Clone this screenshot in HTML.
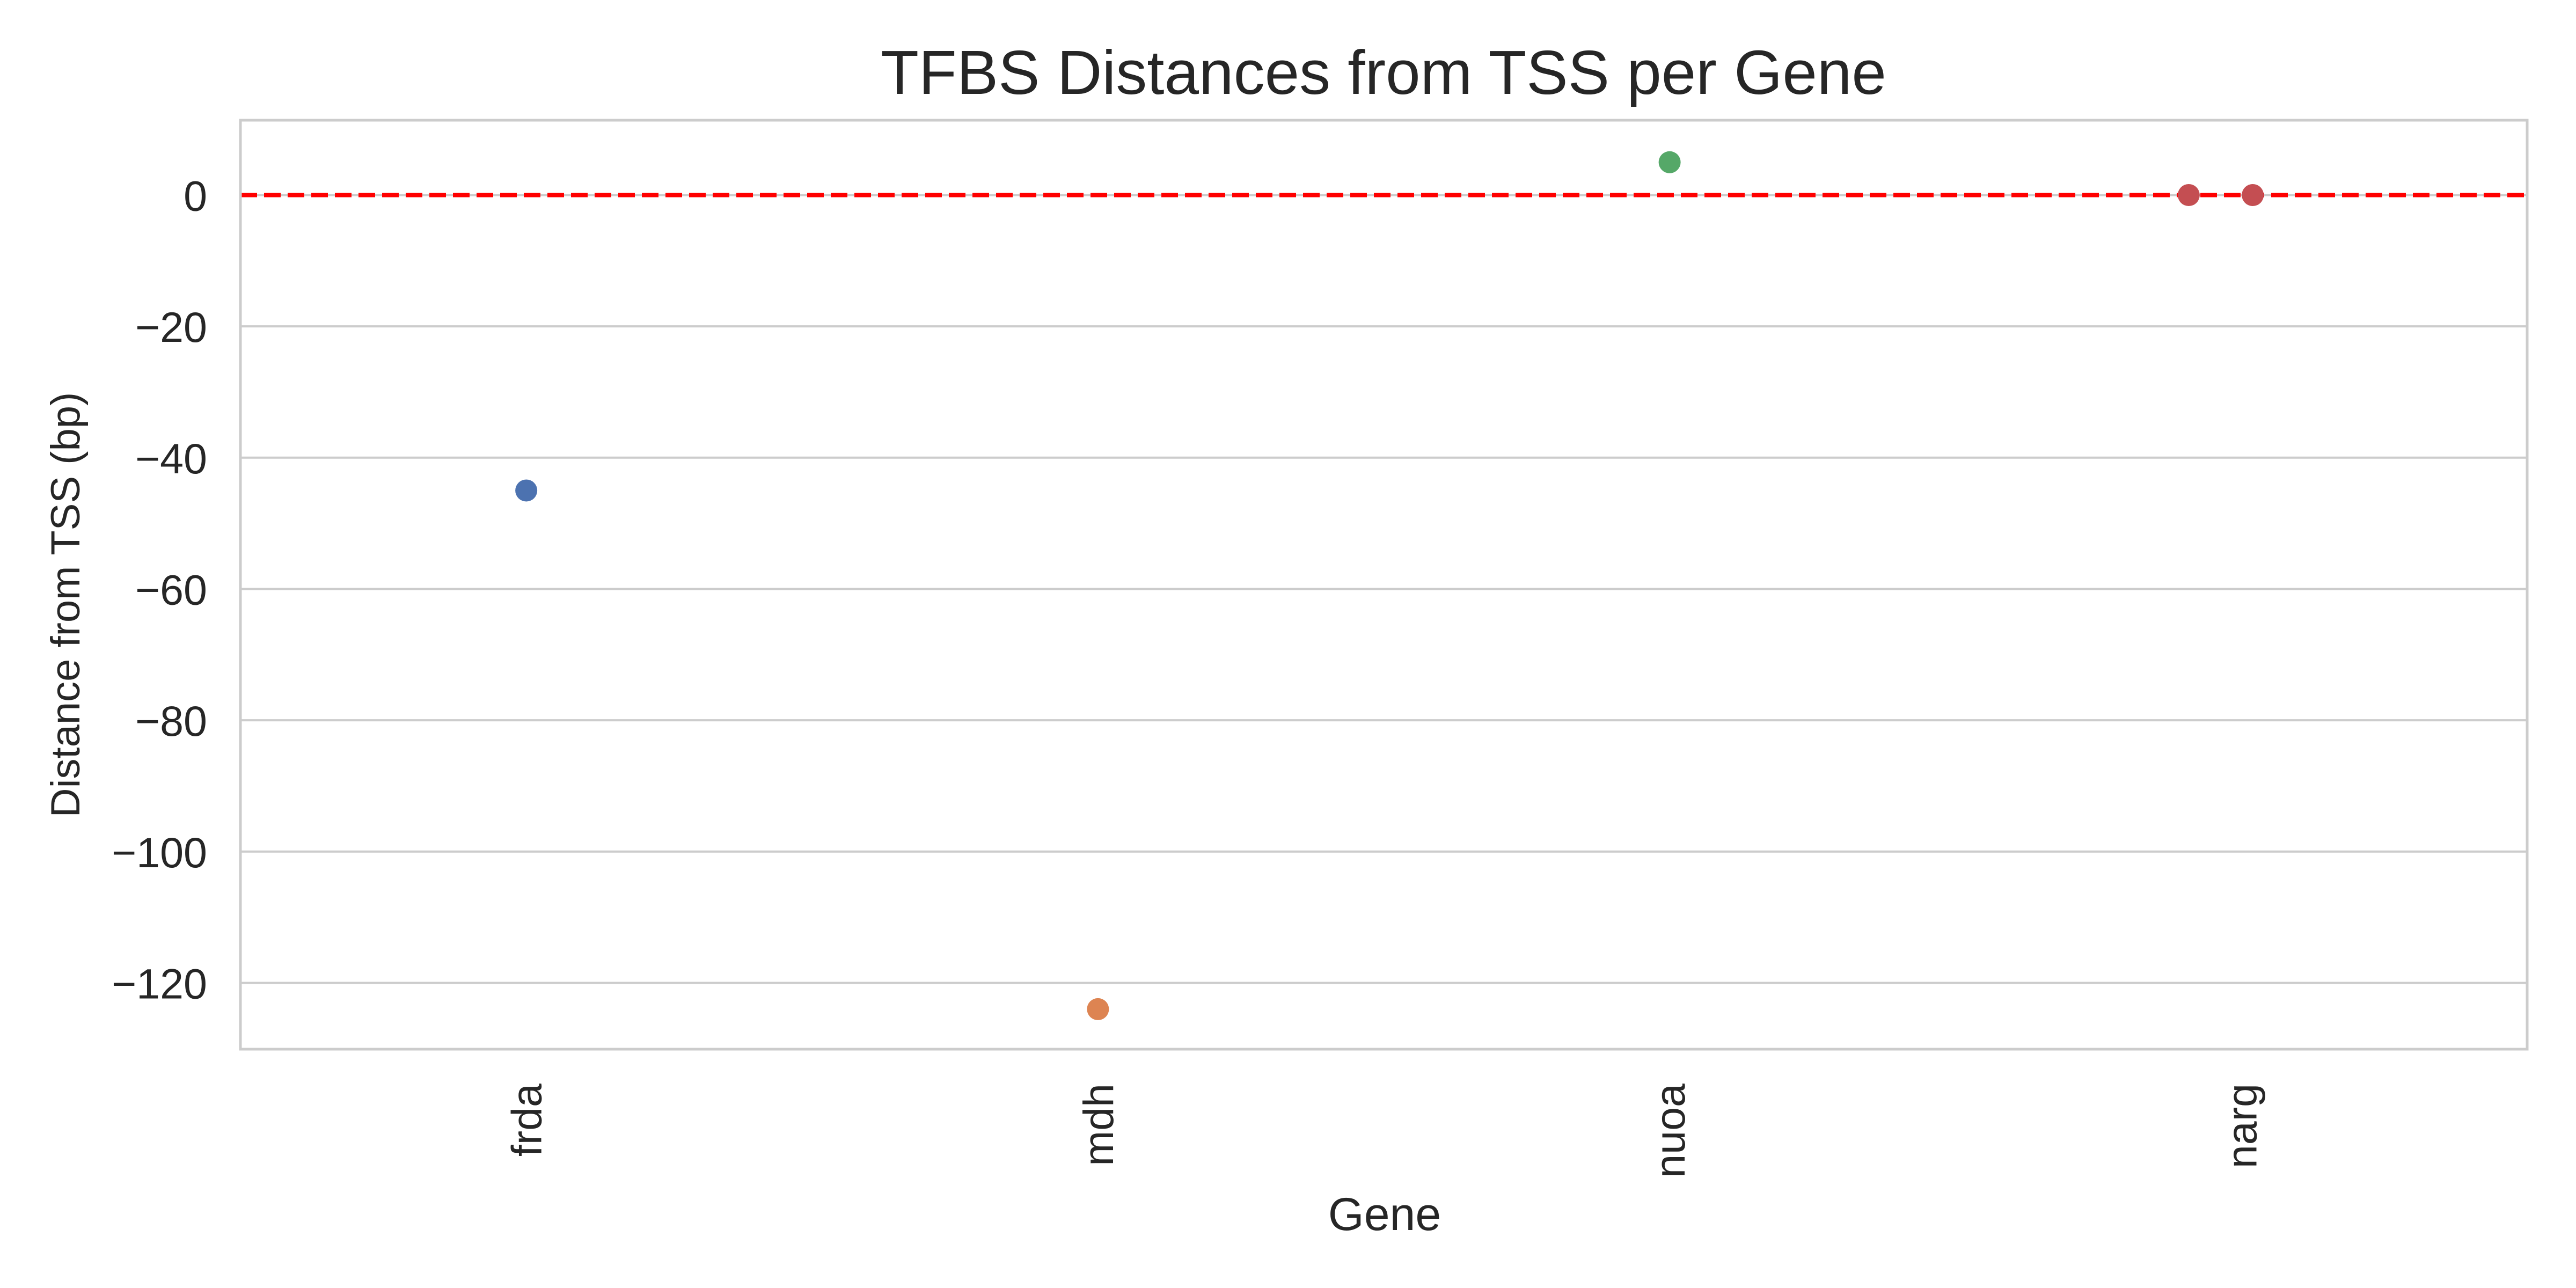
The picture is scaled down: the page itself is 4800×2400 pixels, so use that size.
<!DOCTYPE html>
<html><head><meta charset="utf-8"><style>
html,body{margin:0;padding:0;background:#fff}
svg{display:block}
text{font-family:"Liberation Sans",Arial,sans-serif;fill:#262626}
</style></head><body>
<svg id="chart" width="4800" height="2400" viewBox="0 0 4800 2400" xmlns="http://www.w3.org/2000/svg">
<rect width="4800" height="2400" fill="#fff"/>
<text x="2578" y="175" font-size="116" text-anchor="middle">TFBS Distances from TSS per Gene</text>
<g id="grid"></g>
<g id="yticks"></g>
<g id="xticks"></g>
<line id="zeroline" stroke="#ff0000" stroke-width="8" stroke-dasharray="31,13"/>
<g id="points"></g>
<rect id="frame" fill="none" stroke="#cccccc" stroke-width="5"/>
<text x="2580" y="2292" font-size="86" text-anchor="middle">Gene</text>
<text transform="translate(148,1127) rotate(-90)" font-size="76" text-anchor="middle">Distance from TSS (bp)</text>
</svg>
<script>
const categories = ["frda", "mdh", "nuoa", "narg"];
const pointGene = [0, 1, 2, 3, 3];
const pointValue = [-45, -124, 5, 0, 0];
const pointJitter = [0, 0, 0, -0.092, 0.02];
const yTicks = [0, -20, -40, -60, -80, -100, -120];
const yTickLabels = ["0", "\u221220", "\u221240", "\u221260", "\u221280", "\u2212100", "\u2212120"];
const colors = ["#4c72b0", "#dd8452", "#55a868", "#c44e52"];

const L = 448, R = 4709, T = 224, B = 1955;
const yMin = -130.1, yMax = 11.4;
const xMin = -0.5, xMax = 3.5;
function sx(v){ return L + (v - xMin) / (xMax - xMin) * (R - L); }
function sy(v){ return B - (v - yMin) / (yMax - yMin) * (B - T); }
const NS = "http://www.w3.org/2000/svg";
function mk(tag, attrs){ const e = document.createElementNS(NS, tag); for (const k in attrs) e.setAttribute(k, attrs[k]); return e; }

const frame = document.getElementById('frame');
frame.setAttribute('x', L); frame.setAttribute('y', T);
frame.setAttribute('width', R - L); frame.setAttribute('height', B - T);

const grid = document.getElementById('grid');
const yt = document.getElementById('yticks');
yTicks.forEach((v, i) => {
  const g = mk('line', {x1: L, x2: R, y1: sy(v), y2: sy(v), stroke: '#cccccc', 'stroke-width': 4});
  
  
  grid.appendChild(g);
  const t = mk('text', {x: 386, y: sy(v) + 29, 'font-size': 79, 'text-anchor': 'end'});
  t.textContent = yTickLabels[i];
  
  
  yt.appendChild(t);
});

const xt = document.getElementById('xticks');
categories.forEach((c, i) => {
  const t = mk('text', {transform: 'translate(' + (sx(i) + 28) + ',2019) rotate(-90)', 'font-size': 79, 'text-anchor': 'end'});
  t.textContent = c;
  
  
  xt.appendChild(t);
});

const zl = document.getElementById('zeroline');
zl.setAttribute('x1', L); zl.setAttribute('x2', R);
zl.setAttribute('y1', sy(0)); zl.setAttribute('y2', sy(0));

const pts = document.getElementById('points');
pointValue.forEach((v, i) => {
  const gi = pointGene[i];
  const c = mk('circle', {cx: sx(gi + pointJitter[i]), cy: sy(v), r: 20.5, fill: colors[gi]});
  
  
  pts.appendChild(c);
});
</script>
</body></html>
